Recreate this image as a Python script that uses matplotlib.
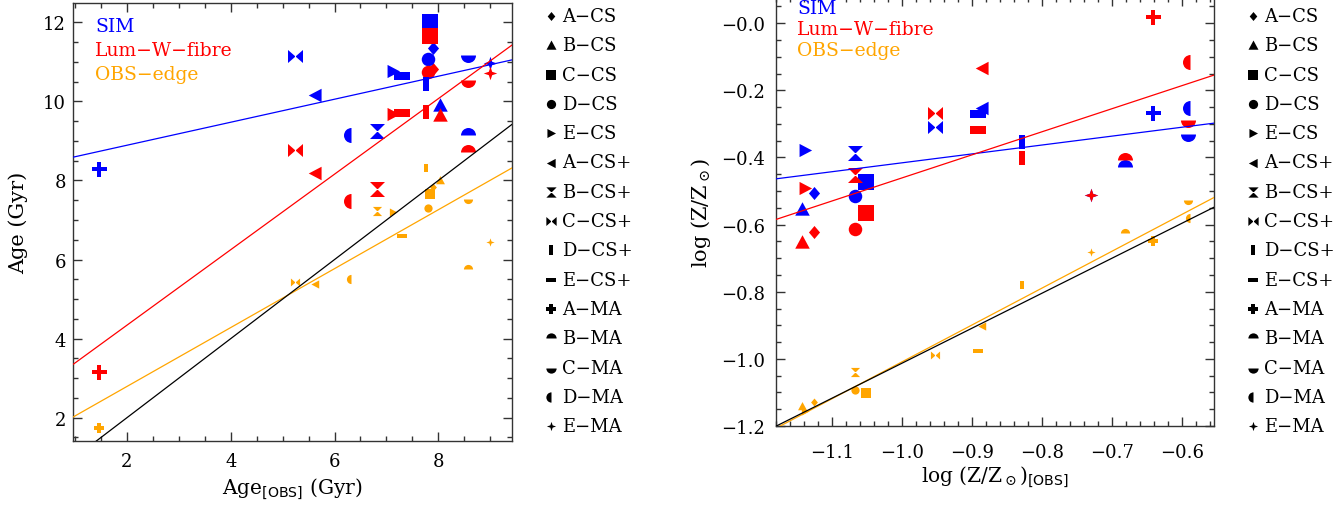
import numpy as np
import matplotlib
matplotlib.use("Agg")
import matplotlib.pyplot as plt
from matplotlib.path import Path

plt.rcParams['font.family'] = ['DejaVu Serif']
plt.rcParams['mathtext.fontset'] = 'dejavuserif'

# galaxy models and their symbols
names = ['A−CS', 'B−CS', 'C−CS', 'D−CS', 'E−CS',
         'A−CS+', 'B−CS+', 'C−CS+', 'D−CS+', 'E−CS+',
         'A−MA', 'B−MA', 'C−MA', 'D−MA', 'E−MA']
shapes = ['diamond', 'tri_up', 'square', 'circle', 'tri_right',
          'tri_left', 'hourglass', 'bowtie', 'rect_tall', 'rect_wide',
          'plus', 'half_up', 'half_down', 'half_left', 'star4']

# ages (Gyr)
age_obs = [7.90, 8.04, 7.84, 7.80, 7.12, 5.62, 6.81, 5.23, 7.76, 7.30, 1.46, 8.58, 8.58, 6.32, 8.99]
age_sim = [11.34, 9.90, 12.00, 11.07, 10.78, 10.16, 9.25, 11.14, 10.44, 10.65, 8.30, 9.14, 11.17, 9.15, 10.96]
age_lum = [10.82, 9.66, 11.66, 10.74, 9.68, 8.19, 7.79, 8.76, 9.73, 9.71, 3.16, 8.72, 10.53, 7.47, 10.72]
age_edge = [7.83, 8.00, 7.66, 7.30, 7.20, 5.37, 7.22, 5.43, 8.31, 6.59, 1.73, 5.75, 7.54, 5.50, 6.44]

# metallicities log(Z/Zsun)
z_obs = [-1.126, -1.143, -1.052, -1.067, -1.138, -0.886, -1.067, -0.953, -0.829, -0.892,
         -0.641, -0.681, -0.591, -0.588, -0.730]
z_sim = [-0.505, -0.554, -0.473, -0.515, -0.378, -0.252, -0.387, -0.309, -0.355, -0.271,
         -0.269, -0.427, -0.330, -0.252, -0.513]
z_lum = [-0.621, -0.651, -0.565, -0.612, -0.491, -0.133, -0.451, -0.269, -0.402, -0.318,
         0.018, -0.409, -0.288, -0.116, -0.513]
z_edge = [-1.129, -1.141, -1.102, -1.092, -1.154, -0.902, -1.038, -0.988, -0.779, -0.976,
          -0.648, -0.624, -0.528, -0.579, -0.683]

# linear fits (slope, intercept); 'ref' is the black reference line
age_fits = {'sim': (0.291, 8.31), 'lum': (0.955, 2.43), 'edge': (0.745, 1.30), 'ref': (1.0, 0.0)}
z_fits = {'sim': (0.265, -0.151), 'lum': (0.687, 0.226), 'edge': (1.098, 0.089), 'ref': (1.042, 0.029)}

BLUE, RED, ORANGE = '#0000ff', '#ff0000', '#ffa500'


def poly(pts):
    pts = list(pts) + [pts[0]]
    codes = [Path.MOVETO] + [Path.LINETO] * (len(pts) - 2) + [Path.CLOSEPOLY]
    return Path(pts, codes)


def half(t1, t2):
    arc = Path.arc(t1, t2)
    v = np.vstack([arc.vertices, arc.vertices[:1]])
    c = list(arc.codes) + [Path.CLOSEPOLY]
    return Path(v, c)


a = 0.33
markers = {
    'diamond': (poly([(0, 1), (0.85, 0), (0, -1), (-0.85, 0)]), 0.87),
    'tri_up': (poly([(-1, -0.85), (1, -0.85), (0, 1)]), 0.97),
    'square': (poly([(-1, -1), (1, -1), (1, 1), (-1, 1)]), 1.04),
    'circle': (Path.circle((0, 0), 1), 0.9),
    'tri_right': (poly([(-0.9, -1), (1, 0), (-0.9, 1)]), 0.88),
    'tri_left': (poly([(0.9, -1), (-1, 0), (0.9, 1)]), 0.9),
    'hourglass': (poly([(-1, 1), (1, 1), (-1, -1), (1, -1)]), 1.0),
    'bowtie': (poly([(-1, 0.87), (1, -0.87), (1, 0.87), (-1, -0.87)]), 1.0),
    'rect_tall': (poly([(-0.5, -1), (0.5, -1), (0.5, 1), (-0.5, 1)]), 0.93),
    'rect_wide': (poly([(-1, -0.45), (1, -0.45), (1, 0.45), (-1, 0.45)]), 1.05),
    'plus': (poly([(-a, 1), (a, 1), (a, a), (1, a), (1, -a), (a, -a), (a, -1),
                   (-a, -1), (-a, -a), (-1, -a), (-1, a), (-a, a)]), 1.0),
    'half_up': (half(0, 180), 1.0),
    'half_down': (half(180, 360), 1.0),
    'half_left': (half(90, 270), 1.0),
    'star4': (poly([(0, 1), (0.25, 0.25), (1, 0), (0.25, -0.25), (0, -1),
                    (-0.25, -0.25), (-1, 0), (-0.25, 0.25)]), 0.9),
}

BIG = 10.8
SMALL = 6.6

fig = plt.figure(figsize=(13.41, 5.10), dpi=100)
W, H = 1341, 510
ax1 = fig.add_axes([73 / W, 1 - 442 / H, 439 / W, 438 / H])
ax2 = fig.add_axes([776 / W, 1 - 427 / H, 438 / W, 429 / H])


def draw_points(ax, x, ys):
    for xi, s, yb, yr, yo in zip(x, shapes, *ys):
        p, r = markers[s]
        ax.plot(xi, yb, marker=p, ms=BIG * r, color=BLUE, mew=0, ls='none', zorder=3)
        ax.plot(xi, yr, marker=p, ms=BIG * r, color=RED, mew=0, ls='none', zorder=3)
        ax.plot(xi, yo, marker=p, ms=SMALL * r, color=ORANGE, mew=0, ls='none', zorder=3)


def draw_fits(ax, fits, xlim):
    xx = np.array(xlim)
    for key, c in (('sim', BLUE), ('lum', RED), ('edge', ORANGE), ('ref', 'black')):
        m, b = fits[key]
        ax.plot(xx, m * xx + b, color=c, lw=0.9, zorder=4)


def style(ax):
    for sp in ax.spines.values():
        sp.set_color('#333333')
        sp.set_linewidth(1.0)
    ax.tick_params(which='both', direction='in', top=True, right=True,
                   colors='#333333', labelcolor='black', labelsize=13)
    ax.tick_params(which='major', length=6.5, width=1.0)
    ax.tick_params(which='minor', length=3.5, width=1.0)


# left panel: ages
xl1 = (0.96, 9.42)
draw_points(ax1, age_obs, (age_sim, age_lum, age_edge))
draw_fits(ax1, age_fits, xl1)
ax1.set_xlim(xl1)
ax1.set_ylim(1.41, 12.49)
style(ax1)
ax1.set_xticks([2, 4, 6, 8])
ax1.set_xticks(np.arange(1.0, 9.5, 0.5), minor=True)
ax1.set_yticks([2, 4, 6, 8, 10, 12])
ax1.set_yticks(np.arange(1.5, 12.5, 0.5), minor=True)
ax1.tick_params(axis='x', pad=8)
ax1.tick_params(axis='y', pad=5)
ax1.set_xlabel(r'Age$_{\mathsf{[OBS]}}$ (Gyr)', fontsize=14.5, labelpad=4)
ax1.set_ylabel('Age (Gyr)', fontsize=15, labelpad=11)

# right panel: metallicities
xl2 = (-1.18, -0.554)
draw_points(ax2, z_obs, (z_sim, z_lum, z_edge))
draw_fits(ax2, z_fits, xl2)
ax2.set_xlim(xl2)
ax2.set_ylim(-1.197, 0.078)
style(ax2)
xt = [-1.1, -1.0, -0.9, -0.8, -0.7, -0.6]
ax2.set_xticks(xt)
ax2.set_xticklabels(['−1.1', '−1.0', '−0.9', '−0.8', '−0.7', '−0.6'])
ax2.set_xticks(np.arange(-1.18, -0.55, 0.02), minor=True)
yt = [0.0, -0.2, -0.4, -0.6, -0.8, -1.0, -1.2]
ax2.set_yticks(yt)
ax2.set_yticklabels(['−0.0', '−0.2', '−0.4', '−0.6', '−0.8', '−1.0', '−1.2'])
ax2.set_yticks(np.arange(-1.15, 0.07, 0.05), minor=True)
ax2.tick_params(axis='x', pad=12)
ax2.tick_params(axis='y', pad=8)
ax2.set_xlabel(r'log (Z/Z$_\odot$)$_{\mathsf{[OBS]}}$', fontsize=14.5, labelpad=2)
ax2.set_ylabel(r'log (Z/Z$_\odot$)', fontsize=15, labelpad=6)

# colour key inside the panels
for (x0, ys), in [((95, (27, 51.5, 75)),), ((797, (9.5, 30, 50.5)),)]:
    for lab, c, yy in zip(['SIM', 'Lum−W−fibre', 'OBS−edge'], [BLUE, RED, ORANGE], ys):
        fig.text(x0 / W, 1 - yy / H, lab, color=c, fontsize=13.5, va='center', ha='left')

# symbol keys to the right of each panel
for ax, xm in ((ax1, 551), (ax2, 1253)):
    for i, (lab, s) in enumerate(zip(names, shapes)):
        yy = 1 - (17 + 29.3 * i) / H
        p, r = markers[s]
        ax.plot(xm / W, yy, marker=p, ms=7.4 * r, color='black', mew=0,
                transform=fig.transFigure, clip_on=False)
        fig.text((xm + 11) / W, yy, lab, fontsize=13, va='center', ha='left')

fig.savefig('out.png', dpi=100)
